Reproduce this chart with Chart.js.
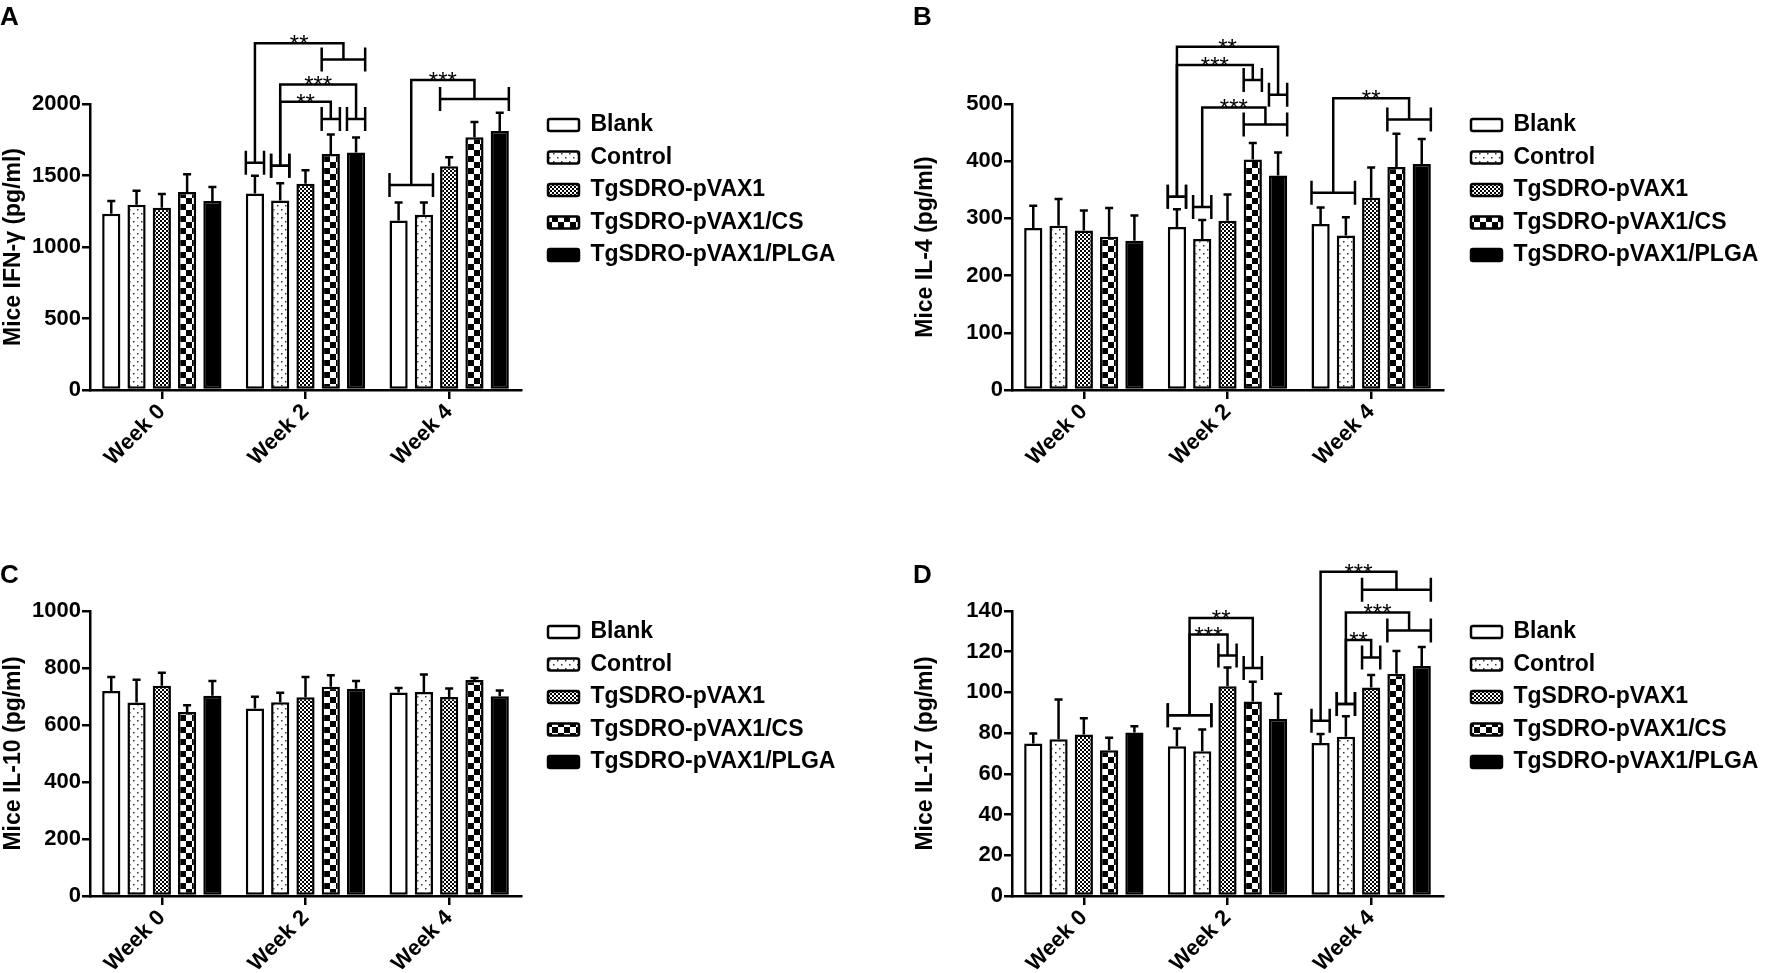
<!DOCTYPE html>
<html>
<head>
<meta charset="utf-8">
<script src="https://cdn.jsdelivr.net/npm/chart.js@4/dist/chart.umd.min.js"></script>
<style>
  body { margin: 0; background: #fff; }
  #fig { position: relative; width: 1772px; height: 973px; background: #fff; overflow: hidden; }
  #fig canvas { position: absolute; }
  .tag { position: absolute; font: bold 26px 'Liberation Sans', Arial, sans-serif; line-height: 1; color: #000; }
</style>
</head>
<body>
<div id="fig">
  <canvas id="chartA" width="886" height="487" style="left:0;top:0"></canvas>
  <canvas id="chartB" width="886" height="487" style="left:886px;top:0"></canvas>
  <canvas id="chartC" width="886" height="486" style="left:0;top:487px"></canvas>
  <canvas id="chartD" width="886" height="486" style="left:886px;top:487px"></canvas>
  <div class="tag" style="left:0;top:3px">A</div>
  <div class="tag" style="left:913px;top:3px">B</div>
  <div class="tag" style="left:0;top:561px">C</div>
  <div class="tag" style="left:913px;top:561px">D</div>
</div>
<script>
// Categories and groups
const weeks = ['Week 0', 'Week 2', 'Week 4'];
const groupNames = ['Blank', 'Control', 'TgSDRO-pVAX1', 'TgSDRO-pVAX1/CS', 'TgSDRO-pVAX1/PLGA'];

// One row per group, columns = week 0 / 2 / 4 (mean and SD, pg/ml)
const ifnMean = [
    [1233, 1375, 1186],
    [1296, 1326, 1226],
    [1275, 1443, 1564],
    [1385, 1650, 1767],
    [1322, 1660, 1811]
];
const ifnSd = [
    [89, 124, 126],
    [98, 119, 86],
    [96, 93, 63],
    [123, 136, 107],
    [98, 105, 128]
];

const il4Mean = [
    [283, 285, 290],
    [287, 264, 270],
    [279, 296, 336],
    [268, 403, 390],
    [261, 375, 395]
];
const il4Sd = [
    [39, 31, 29],
    [47, 33, 32],
    [35, 46, 53],
    [50, 29, 58],
    [44, 40, 44]
];

const il10Mean = [
    [719, 658, 714],
    [679, 680, 716],
    [738, 697, 698],
    [646, 734, 758],
    [703, 727, 701]
];
const il10Sd = [
    [49, 41, 16],
    [80, 33, 61],
    [45, 71, 30],
    [23, 41, 7],
    [51, 27, 20]
];

const il17Mean = [
    [74.9, 73.6, 75.2],
    [77.0, 71.1, 78.2],
    [79.3, 103.0, 102.4],
    [71.6, 95.5, 109.2],
    [80.3, 87.0, 113.0]
];
const il17Sd = [
    [4.9, 8.7, 4.4],
    [19.5, 10.7, 10.1],
    [8.0, 9.2, 6.2],
    [6.1, 9.7, 11.2],
    [3.1, 12.3, 9.3]
];

// Significance brackets:
// [week, left groups, right groups, left bracket value, right bracket value, bridge value, stars]
const ifnBrackets = [
    [1, [0], [3, 4], 1590, 2312, 2424, '**'],
    [1, [1], [4], 1569, 1895, 2137, '***'],
    [1, [1], [3], 1569, 1895, 2016, '**'],
    [2, [0, 1], [2, 3, 4], 1434, 2035, 2168, '***']
];
const il4Brackets = [
    [1, [0], [4], 338, 516, 600, '**'],
    [1, [0], [3], 338, 542, 568, '***'],
    [1, [1], [3, 4], 320, 464, 494, '***'],
    [2, [0, 1], [3, 4], 345, 473, 510, '**']
];
const il10Brackets = [];
const il17Brackets = [
    [1, [0, 1], [2], 88.8, 118.2, 128.4, '***'],
    [1, [0, 1], [3], 88.8, 112, 136.6, '**'],
    [2, [0], [2, 3, 4], 86.1, 150.4, 159.3, '***'],
    [2, [1], [3, 4], 94.3, 130.4, 139.3, '***'],
    [2, [1], [2], 94.3, 117.2, 125.7, '**']
];

const FONT = "'Liberation Sans', Arial, sans-serif";
Chart.defaults.font.family = FONT;
Chart.defaults.color = '#000';

// Bar fills: plain, dotted, fine checks, coarse checks, solid
function tile(w, h, draw) {
    const c = document.createElement('canvas');
    c.width = w;
    c.height = h;
    const g = c.getContext('2d');
    g.fillStyle = '#fff';
    g.fillRect(0, 0, w, h);
    g.fillStyle = '#000';
    draw(g);
    return g.createPattern(c, 'repeat');
}

const fills = [
    '#fff',
    tile(8, 8, g => {
        g.fillStyle = '#333';
        g.fillRect(1, 1, 1.5, 1.5);
        g.fillRect(5, 5, 1.5, 1.5);
    }),
    tile(4, 4, g => {
        g.fillRect(0, 0, 2, 2);
        g.fillRect(2, 2, 2, 2);
    }),
    tile(12, 12, g => {
        g.fillRect(0, 0, 6, 6);
        g.fillRect(6, 6, 6, 6);
    }),
    '#000'
];

// Puts the legend block to the right of the plot, top aligned with it
const legendPlace = {
    id: 'legendPlace',
    afterLayout(chart, args, opts) {
        const lg = chart.legend;
        if (!lg) return;
        const w = lg.width, h = lg.height;
        lg.left = opts.x;
        lg.right = opts.x + w;
        lg.top = chart.chartArea.top;
        lg.bottom = lg.top + h;
    }
};

// Upper error bars and significance brackets
const marks = {
    id: 'marks',
    afterDatasetsDraw(chart, args, opts) {
        const ctx = chart.ctx;
        const y = chart.scales.y;
        const bar = (g, w) => chart.getDatasetMeta(g).data[w];

        ctx.save();
        ctx.strokeStyle = '#000';
        ctx.fillStyle = '#000';
        ctx.lineWidth = 2.5;

        opts.sd.forEach((row, g) => row.forEach((sd, w) => {
            const b = bar(g, w);
            const top = y.getPixelForValue(chart.data.datasets[g].data[w] + sd);
            ctx.beginPath();
            ctx.moveTo(b.x, b.y);
            ctx.lineTo(b.x, top);
            ctx.moveTo(b.x - 4, top);
            ctx.lineTo(b.x + 4, top);
            ctx.stroke();
        }));

        const span = (w, groups, v) => {
            const first = bar(groups[0], w);
            const last = bar(groups[groups.length - 1], w);
            const x0 = first.x - first.width / 2;
            const x1 = last.x + last.width / 2;
            const yy = y.getPixelForValue(v);
            ctx.beginPath();
            ctx.moveTo(x0, yy);
            ctx.lineTo(x1, yy);
            ctx.moveTo(x0, yy - 12);
            ctx.lineTo(x0, yy + 12);
            ctx.moveTo(x1, yy - 12);
            ctx.lineTo(x1, yy + 12);
            ctx.stroke();
            return (x0 + x1) / 2;
        };

        ctx.font = '24px ' + FONT;
        ctx.textAlign = 'center';
        ctx.textBaseline = 'alphabetic';
        opts.brackets.forEach(([w, left, right, lv, rv, bridge, stars]) => {
            const lx = span(w, left, lv);
            const rx = span(w, right, rv);
            const ty = y.getPixelForValue(bridge);
            ctx.beginPath();
            ctx.moveTo(lx, y.getPixelForValue(lv));
            ctx.lineTo(lx, ty);
            ctx.lineTo(rx, ty);
            ctx.lineTo(rx, y.getPixelForValue(rv));
            ctx.stroke();
            ctx.fillText(stars, (lx + rx) / 2, ty + 9);
        });
        ctx.restore();
    }
};

function makeDatasets(means) {
    return means.map((vals, g) => ({
        label: groupNames[g],
        data: vals,
        backgroundColor: fills[g],
        borderColor: '#000',
        borderWidth: 2.5,
        borderSkipped: false,
        categoryPercentage: 0.88,
        barPercentage: 0.72
    }));
}

function drawPanel(id, o) {
    new Chart(document.getElementById(id), {
        type: 'bar',
        data: {
            labels: weeks,
            datasets: makeDatasets(o.mean)
        },
        options: {
            responsive: false,
            animation: false,
            events: [],
            layout: { autoPadding: false, padding: o.pad },
            scales: {
                x: {
                    offset: true,
                    grid: { offset: false, drawOnChartArea: false, color: '#000', lineWidth: 2.5, tickLength: 9 },
                    border: { color: '#000', width: 2.5 },
                    ticks: {
                        color: '#000',
                        font: { size: 22, weight: 'bold' },
                        minRotation: 45,
                        maxRotation: 45,
                        autoSkip: false,
                        padding: 0
                    },
                    afterFit: s => { s.height = o.xh; }
                },
                y: {
                    min: 0,
                    max: o.max,
                    grid: { drawOnChartArea: false, color: '#000', lineWidth: 2.5, tickLength: 8 },
                    border: { color: '#000', width: 2.5 },
                    ticks: {
                        stepSize: o.step,
                        color: '#000',
                        font: { size: 22, weight: 'bold' },
                        padding: 1,
                        callback: v => String(v)
                    },
                    title: {
                        display: true,
                        text: o.title,
                        color: '#000',
                        font: { size: 23, weight: 'bold' },
                        padding: 0
                    },
                    afterFit: s => { s.width = o.yw; }
                }
            },
            plugins: {
                legend: {
                    position: 'chartArea',
                    align: 'start',
                    labels: {
                        boxWidth: 31,
                        boxHeight: 12,
                        padding: 9.5,
                        color: '#000',
                        useBorderRadius: true,
                        borderRadius: 2,
                        font: { size: 23, weight: 'bold' }
                    }
                },
                tooltip: { enabled: false },
                legendPlace: { x: o.legendX },
                marks: { sd: o.sd, brackets: o.brackets }
            }
        },
        plugins: [legendPlace, marks]
    });
}

drawPanel('chartA', {
    mean: ifnMean, sd: ifnSd, brackets: ifnBrackets,
    max: 2000, step: 500, title: 'Mice IFN-γ (pg/ml)',
    pad: { left: 0, top: 104, right: 365, bottom: 7 }, yw: 90, xh: 90, legendX: 538.5
});
drawPanel('chartB', {
    mean: il4Mean, sd: il4Sd, brackets: il4Brackets,
    max: 500, step: 100, title: 'Mice IL-4 (pg/ml)',
    pad: { left: 26, top: 104, right: 329, bottom: 7 }, yw: 100, xh: 90, legendX: 575.5
});
drawPanel('chartC', {
    mean: il10Mean, sd: il10Sd, brackets: il10Brackets,
    max: 1000, step: 200, title: 'Mice IL-10 (pg/ml)',
    pad: { left: 0, top: 124, right: 365, bottom: 0 }, yw: 90, xh: 77, legendX: 538.5
});
drawPanel('chartD', {
    mean: il17Mean, sd: il17Sd, brackets: il17Brackets,
    max: 140, step: 20, title: 'Mice IL-17 (pg/ml)',
    pad: { left: 26, top: 124, right: 329, bottom: 0 }, yw: 100, xh: 77, legendX: 575.5
});
</script>
</body>
</html>
